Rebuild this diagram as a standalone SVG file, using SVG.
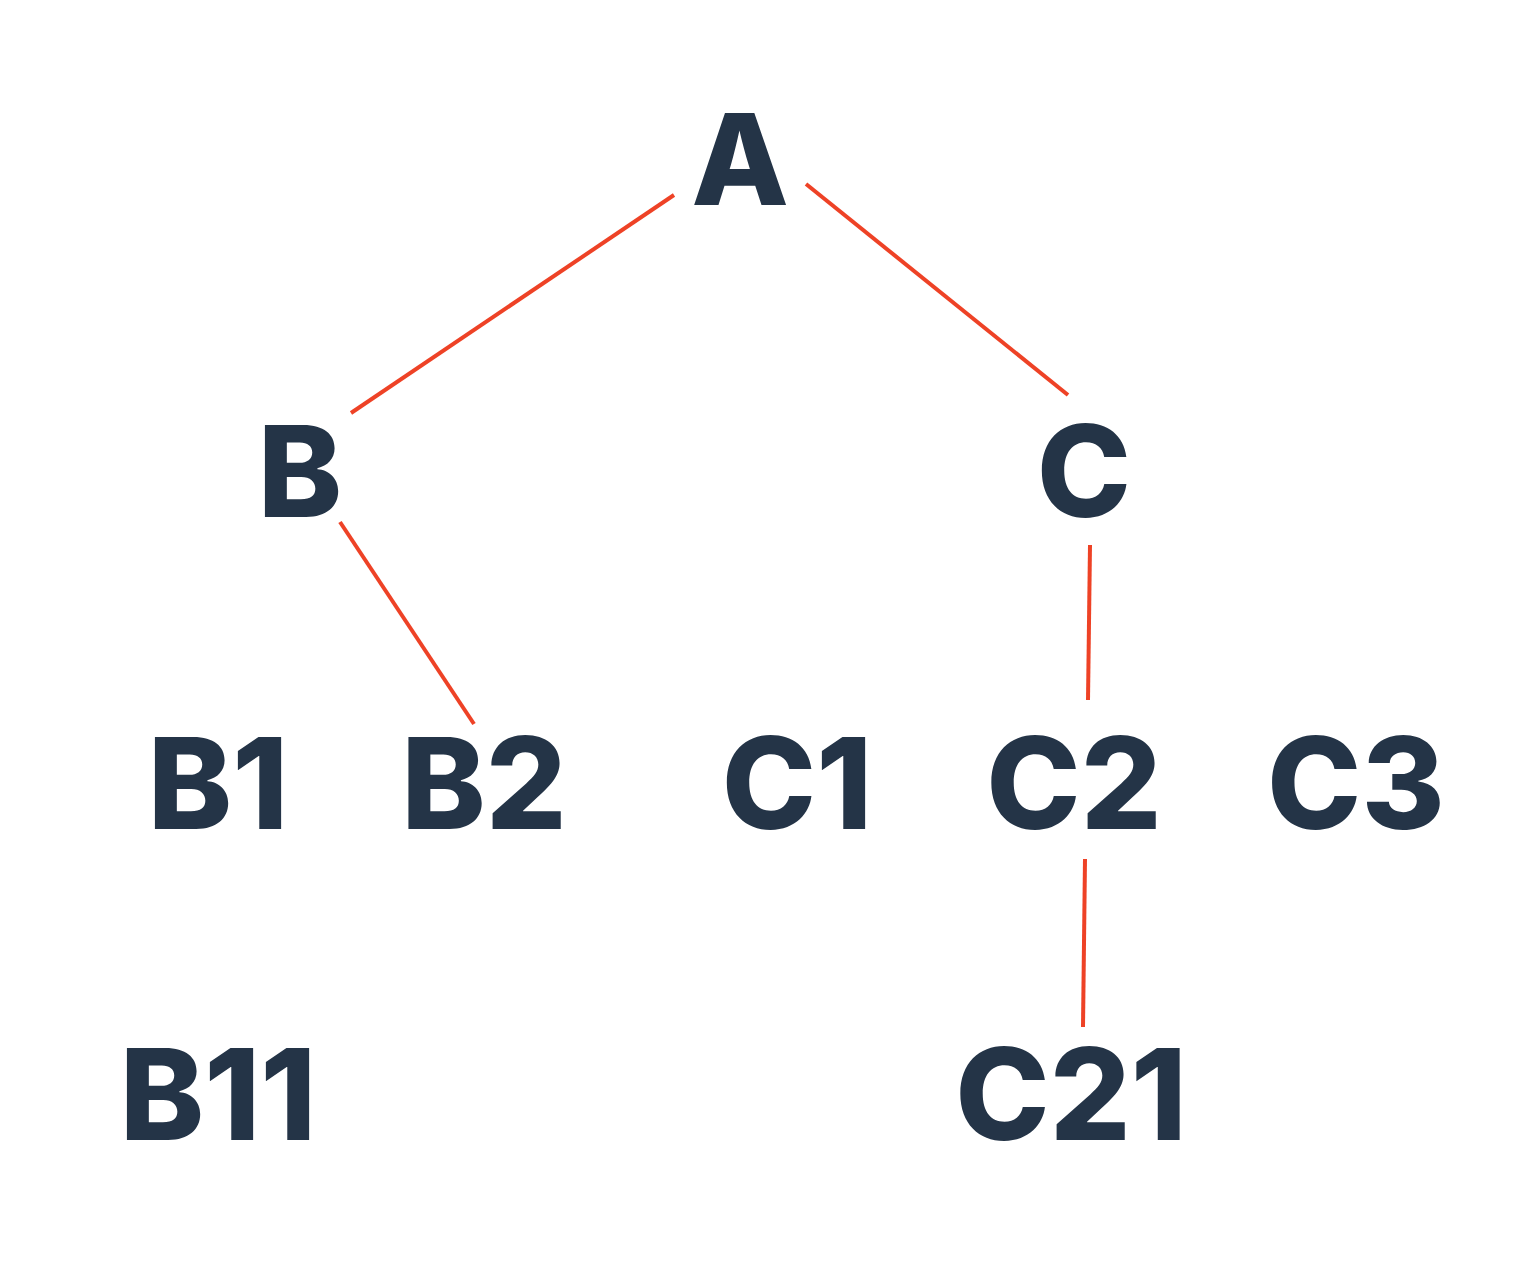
<svg xmlns="http://www.w3.org/2000/svg" width="1530" height="1266" viewBox="0 0 1530 1266">
<style>
.n{font-family:Inter,"Liberation Sans",Arial,sans-serif;font-weight:800;font-size:127px;fill:#243447;text-anchor:middle}
.e{stroke:#EE4226;stroke-width:4;fill:none}
</style>
<rect width="1530" height="1266" fill="#fff"/>
<g id="connectors">
<line class="e" x1="674" y1="195" x2="351" y2="413"/>
<line class="e" x1="806" y1="184" x2="1068" y2="395"/>
<line class="e" x1="340" y1="522" x2="474" y2="724"/>
<line class="e" x1="1090" y1="545" x2="1088" y2="700"/>
<line class="e" x1="1085" y1="859" x2="1083" y2="1027"/>
</g>
<g id="A"><text class="n" x="740" y="205">A</text></g>
<g id="B"><text class="n" x="300" y="517">B</text></g>
<g id="C"><text class="n" x="1084" y="517">C</text></g>
<g id="B1"><text class="n" x="218" y="829">B1</text></g>
<g id="B2"><text class="n" x="484" y="829">B2</text></g>
<g id="C1"><text class="n" x="797" y="829">C1</text></g>
<g id="C2"><text class="n" x="1074" y="829">C2</text></g>
<g id="C3"><text class="n" x="1356" y="829">C3</text></g>
<g id="B11"><text class="n" x="218" y="1140">B11</text></g>
<g id="C21"><text class="n" x="1071" y="1140">C21</text></g>
</svg>
